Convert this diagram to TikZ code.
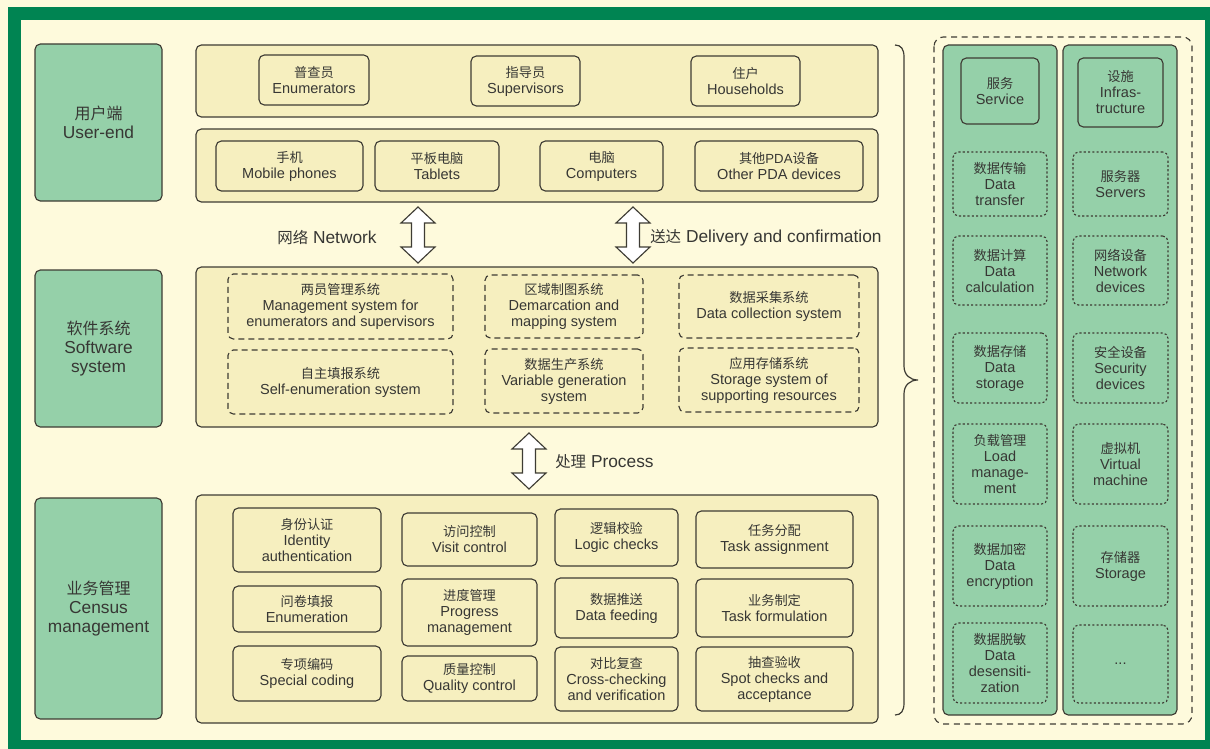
\documentclass[tikz,border=0pt]{standalone}
\usepackage{fontspec}
\setmainfont{Liberation Sans}
\newfontfamily\cjk{Noto Sans CJK SC}
\definecolor{gborder}{RGB}{0,132,82}
\definecolor{cream}{RGB}{254,250,220}
\definecolor{yfill}{RGB}{246,239,191}
\definecolor{gfill}{RGB}{149,208,169}
\definecolor{stroke}{RGB}{62,60,52}
\definecolor{txt}{RGB}{55,55,52}
\newcommand\zh[1]{{\cjk\fontsize{9.9}{12}\selectfont #1}}
\newcommand\zhL[1]{{\cjk\fontsize{12}{14.5}\selectfont #1}}
\newcommand\zhM[1]{{\cjk\fontsize{11.6}{14}\selectfont #1}}
\newcommand\bx[7]{\node[#6, minimum width={(#4-#2)*0.75pt}, minimum height={(#5-#3)*0.75pt}] (#1) at ({(#2+#4)/2},{(#3+#5)/2}) {#7};}
\tikzset{
  base/.style={rounded corners=4pt, line width=0.85pt, draw=stroke, text=txt, align=center, inner sep=0pt, font=\fontsize{10.9}{12}\selectfont},
  cat/.style={base, fill=gfill, font=\fontsize{13}{14.5}\selectfont},
  panel/.style={base, fill=yfill},
  item/.style={base, fill=yfill},
  dbox/.style={base, fill=yfill, dash pattern=on 4.5pt off 3pt},
  gcol/.style={base, fill=gfill},
  gitem/.style={base, fill=gfill},
  dotbox/.style={base, fill=gfill, dash pattern=on 1.6pt off 1.6pt},
  outerdash/.style={rounded corners=7pt, line width=0.85pt, draw=stroke, dash pattern=on 4.5pt off 3.5pt},
  blockarrow/.style={draw=stroke, line width=0.85pt, fill=white, line join=miter},
  lbl/.style={text=txt, inner sep=0pt, font=\fontsize{13}{14}\selectfont},
  bracestyle/.style={draw=stroke, line width=0.9pt},
}
\newcommand\darrow[4]{% name, cx, top, bottom
  \coordinate (#1-t) at (#2,#3);
  \coordinate (#1-b) at (#2,#4);
  \draw[blockarrow] (#1-t) -- ++(17,16) -- ++(-10.5,0) -- ($(#1-b)+(6.5,-16)$) -- ++(10.5,0) -- (#1-b) -- ++(-17,-16) -- ++(10.5,0) -- ($(#1-t)+(-6.5,16)$) -- ++(-10.5,0) -- cycle;}
\usetikzlibrary{calc}
\begin{document}
\begin{tikzpicture}[x=0.75pt,y=-0.75pt]
\useasboundingbox (0,0) rectangle (1210,749);
\fill[cream] (0,0) rectangle (1210,749);
\fill[gborder] (8,7) rectangle (1210,749);
\fill[cream] (21,20) rectangle (1205,740);

% left categories
\bx{cuser}{35}{44}{162}{201}{cat}{\zhL{用户端}\\User-end}
\bx{csoft}{35}{270}{162}{427}{cat}{\zhL{软件系统}\\Software\\system}
\bx{ccensus}{35}{498}{162}{719}{cat}{\zhL{业务管理}\\Census\\management}

% user-end panels
\bx{prow1}{196}{45}{878}{117}{panel}{}
\bx{enum}{259}{55}{369}{105}{item}{\zh{普查员}\\Enumerators}
\bx{sup}{471}{56}{580}{106}{item}{\zh{指导员}\\Supervisors}
\bx{hh}{691}{56}{800}{106}{item}{\zh{住户}\\Households}
\bx{prow2}{196}{129}{878}{202}{panel}{}
\bx{mob}{216}{141}{363}{191}{item}{\zh{手机}\\Mobile phones}
\bx{tab}{375}{141}{499}{191}{item}{\zh{平板电脑}\\Tablets}
\bx{comp}{540}{141}{663}{191}{item}{\zh{电脑}\\Computers}
\bx{pda}{695}{141}{863}{191}{item}{\zh{其他}{\fontsize{9.9}{12}\selectfont PDA}\zh{设备}\\Other PDA devices}

% arrows
\darrow{anet}{418}{207}{263}
\darrow{adel}{633}{207}{263}
\node[lbl] (lnet) at (327,238) {\zhM{网络} Network};
\node[lbl, anchor=west] (ldel) at (650,238) {\zhM{送达} Delivery and confirmation};

% software system
\bx{psoft}{196}{267}{878}{427}{panel}{}
\bx{s1}{228}{274}{453}{339}{dbox}{\zh{两员管理系统}\\Management system for\\enumerators and supervisors}
\bx{s2}{228}{350}{453}{414}{dbox}{\zh{自主填报系统}\\Self-enumeration system}
\bx{s3}{485}{275}{643}{338}{dbox}{\zh{区域制图系统}\\Demarcation and\\mapping system}
\bx{s4}{485}{349}{643}{413}{dbox}{\zh{数据生产系统}\\Variable generation\\system}
\bx{s5}{679}{275}{859}{338}{dbox}{\zh{数据采集系统}\\Data collection system}
\bx{s6}{679}{348}{859}{412}{dbox}{\zh{应用存储系统}\\Storage system of\\supporting resources}

\darrow{aproc}{529}{433}{489}
\node[lbl, anchor=west] (lproc) at (555,462) {\zhM{处理} Process};

% census management
\bx{pcen}{196}{495}{878}{723}{panel}{}
\bx{m1}{233}{508}{381}{572}{item}{\zh{身份认证}\\Identity\\authentication}
\bx{m2}{233}{586}{381}{632}{item}{\zh{问卷填报}\\Enumeration}
\bx{m3}{233}{646}{381}{701}{item}{\zh{专项编码}\\Special coding}
\bx{m4}{402}{513}{537}{566}{item}{\zh{访问控制}\\Visit control}
\bx{m5}{402}{579}{537}{646}{item}{\zh{进度管理}\\Progress\\management}
\bx{m6}{402}{656}{537}{701}{item}{\zh{质量控制}\\Quality control}
\bx{m7}{555}{509}{678}{566}{item}{\zh{逻辑校验}\\Logic checks}
\bx{m8}{555}{578}{678}{638}{item}{\zh{数据推送}\\Data feeding}
\bx{m9}{555}{647}{678}{711}{item}{\zh{对比复查}\\Cross-checking\\and verification}
\bx{m10}{696}{511}{853}{568}{item}{\zh{任务分配}\\Task assignment}
\bx{m11}{696}{579}{853}{637}{item}{\zh{业务制定}\\Task formulation}
\bx{m12}{696}{647}{853}{711}{item}{\zh{抽查验收}\\Spot checks and\\acceptance}

% brace
\draw[bracestyle] (895,45) .. controls (901,45) and (904,49) .. (904,57) -- (904,366) .. controls (904,375) and (910,380) .. (918,380) .. controls (910,380) and (904,385) .. (904,394) -- (904,703) .. controls (904,711) and (901,715) .. (895,715);

% right side
\draw[outerdash] (934,37) rectangle (1192,724);
\bx{colsvc}{943}{45}{1057}{715}{gcol}{}
\bx{colinf}{1063}{45}{1177}{715}{gcol}{}
\bx{svc}{961}{58}{1039}{124}{gitem}{\zh{服务}\\Service}
\bx{inf}{1078}{58}{1163}{127}{gitem}{\zh{设施}\\Infras-\\tructure}
\bx{r1}{953}{152}{1047}{216}{dotbox}{\zh{数据传输}\\Data\\transfer}
\bx{r2}{953}{236}{1047}{305}{dotbox}{\zh{数据计算}\\Data\\calculation}
\bx{r3}{953}{333}{1047}{403}{dotbox}{\zh{数据存储}\\Data\\storage}
\bx{r4}{953}{424}{1047}{504}{dotbox}{\zh{负载管理}\\Load\\manage-\\ment}
\bx{r5}{953}{526}{1047}{606}{dotbox}{\zh{数据加密}\\Data\\encryption}
\bx{r6}{953}{623}{1047}{703}{dotbox}{\zh{数据脱敏}\\Data\\desensiti-\\zation}
\bx{q1}{1073}{152}{1168}{216}{dotbox}{\zh{服务器}\\Servers}
\bx{q2}{1073}{236}{1168}{305}{dotbox}{\zh{网络设备}\\Network\\devices}
\bx{q3}{1073}{333}{1168}{403}{dotbox}{\zh{安全设备}\\Security\\devices}
\bx{q4}{1073}{424}{1168}{504}{dotbox}{\zh{虚拟机}\\Virtual\\machine}
\bx{q5}{1073}{526}{1168}{606}{dotbox}{\zh{存储器}\\Storage}
\bx{q6}{1073}{625}{1168}{703}{dotbox}{...}
\end{tikzpicture}
\end{document}
